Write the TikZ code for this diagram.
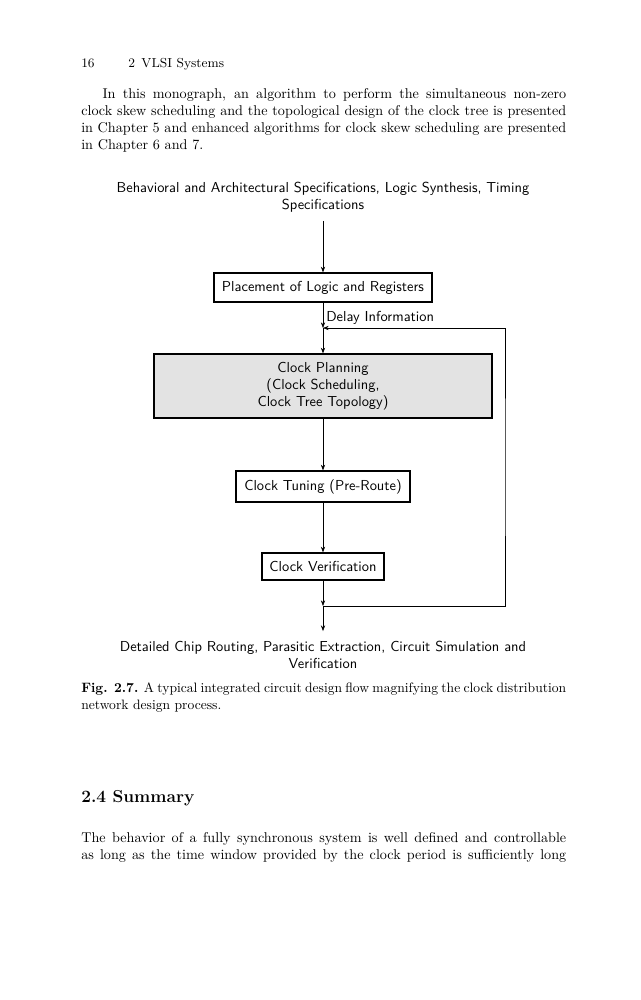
\documentclass[tikz,border=0pt]{standalone}
\usepackage{fontspec}
\usetikzlibrary{arrows.meta}
\begin{document}
\begin{tikzpicture}[x=0.706pt,y=-0.706pt,
  txt/.style={inner sep=0pt,anchor=base west,font=\rmfamily\fontsize{10}{12}\selectfont},
  captxt/.style={inner sep=0pt,anchor=base west,font=\rmfamily\fontsize{9.6}{11.5}\selectfont},
  lbl/.style={inner sep=0pt,align=center,font=\sffamily\fontsize{10.2}{12}\selectfont},
  box/.style={draw,line width=0.9pt,inner sep=0pt,align=center,font=\sffamily\fontsize{10.2}{12}\selectfont},
  conn/.style={line width=0.4pt,-{Stealth[length=4pt,width=3pt]}}]
\useasboundingbox (0,0) rectangle (641,1000);
% header
\node[txt,font=\rmfamily\fontsize{9.2}{11}\selectfont] (pg) at (81,67) {16};
\node[txt,font=\rmfamily\fontsize{9.2}{11}\selectfont] (rh) at (128,67) {2\enspace VLSI Systems};
% paragraph
\node[txt] (p1) at (81,98) {\makebox[342.4pt][s]{\hspace*{15pt}In this monograph, an algorithm to perform the simultaneous non-zero}};
\node[txt] (p2) at (81,115) {\makebox[342.4pt][s]{clock skew scheduling and the topological design of the clock tree is presented}};
\node[txt] (p3) at (81,132) {\makebox[342.4pt][s]{in Chapter 5 and enhanced algorithms for clock skew scheduling are presented}};
\node[txt] (p4) at (81,149) {in Chapter 6 and 7.};
% diagram
\node[lbl] (top) at (323,197) {Behavioral and Architectural Specifications, Logic Synthesis, Timing\\Specifications};
\node[box,minimum width=153.9pt,minimum height=20.5pt] (place) at (323,287.5) {Placement of Logic and Registers};
\node[box,fill=black!11,minimum width=238.6pt,minimum height=45.2pt] (plan) at (323,386) {Clock Planning\\(Clock Scheduling,\\Clock Tree Topology)};
\node[box,minimum width=122.8pt,minimum height=21.9pt] (tune) at (323,486.5) {Clock Tuning (Pre-Route)};
\node[box,minimum width=86.1pt,minimum height=19.1pt] (verif) at (323,566.5) {Clock Verification};
\node[lbl] (bot) at (323,655) {Detailed Chip Routing, Parasitic Extraction, Circuit Simulation and\\Verification};
\coordinate (j2) at (323,328);
\coordinate (j1) at (323,606);
\coordinate (fb) at (505,467);
\node[lbl,anchor=west] (delay) at (326,318) {Delay Information};
\draw[conn] ([yshift=-6pt]top.south) -- (place.north);
\draw[conn] (place.south) -- (j2);
\draw[conn] (j2) -- (plan.north);
\draw[conn] (plan.south) -- (tune.north);
\draw[conn] (tune.south) -- (verif.north);
\draw[conn] (verif.south) -- (j1);
\draw[conn] (j1) -- ([yshift=7pt]bot.north);
\draw[conn] (j1) -| (fb) |- (j2);
% caption
\node[captxt] (c1) at (81,692) {\makebox[342.4pt][s]{\textbf{Fig. 2.7.} A typical integrated circuit design flow magnifying the clock distribution}};
\node[captxt] (c2) at (81,709) {network design process.};
% section
\node[txt,font=\rmfamily\bfseries\fontsize{12.2}{14}\selectfont] (sec) at (81,802) {2.4 Summary};
\node[txt] (s1) at (81,842) {\makebox[342.4pt][s]{The behavior of a fully synchronous system is well defined and controllable}};
\node[txt] (s2) at (81,859) {\makebox[342.4pt][s]{as long as the time window provided by the clock period is sufficiently long}};
\end{tikzpicture}
\end{document}
